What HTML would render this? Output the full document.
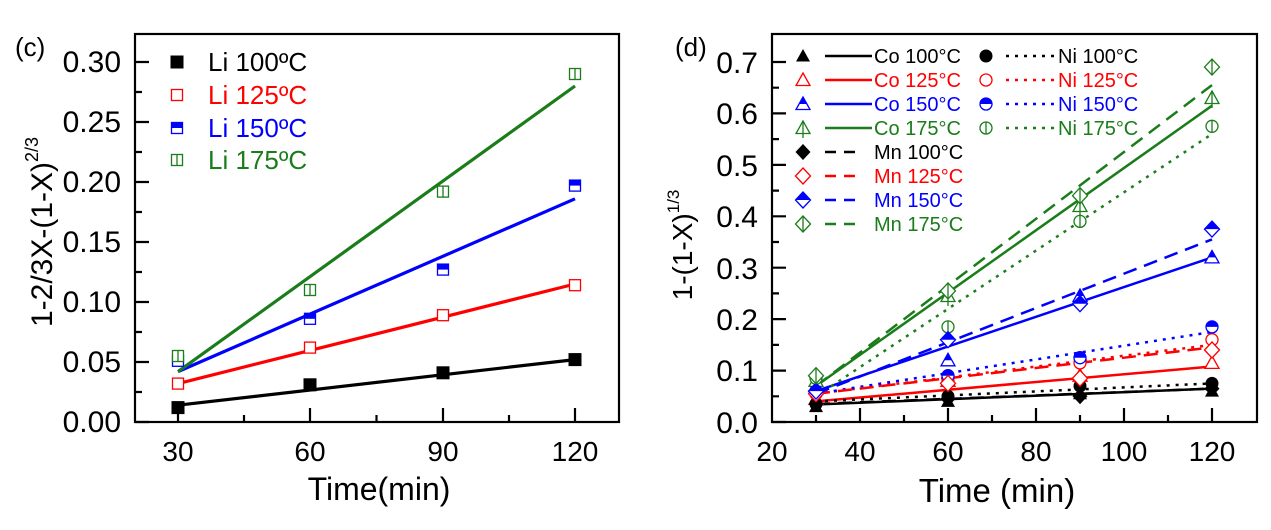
<!DOCTYPE html>
<html><head><meta charset="utf-8"><style>
html,body{margin:0;padding:0;background:#fff}
svg{display:block;font-family:"Liberation Sans",Arial,sans-serif}
</style></head><body>
<svg width="1271" height="530" viewBox="0 0 1271 530" xmlns="http://www.w3.org/2000/svg">
<defs>
<clipPath id="top"><rect x="-12" y="-12" width="24" height="12"/></clipPath>
<g id="sq0"><rect x="-6.5" y="-6.5" width="13" height="13" fill="#000"/></g>
<g id="sq1"><rect x="-5.5" y="-5.5" width="11" height="11" fill="#fff" stroke="#f00" stroke-width="1.3"/></g>
<g id="sq2"><rect x="-5.5" y="-5.5" width="11" height="11" fill="#fff" stroke="#00f" stroke-width="1.3"/><rect x="-5.5" y="-5.5" width="11" height="5.5" fill="#00f"/></g>
<g id="sq3"><rect x="-5.5" y="-5.5" width="11" height="11" fill="#fff" stroke="#1a7d1a" stroke-width="1.3"/><line x1="0" y1="-5.5" x2="0" y2="5.5" stroke="#1a7d1a" stroke-width="1.3"/></g>
<g id="tri0"><polygon points="0,-7 7,5.5 -7,5.5" fill="#000"/></g>
<g id="tri1"><polygon points="0,-7 7,5.5 -7,5.5" fill="#fff" stroke="#f00" stroke-width="1.3"/></g>
<g id="tri2"><polygon points="0,-7 7,5.5 -7,5.5" fill="#fff" stroke="#00f" stroke-width="1.3"/><polygon points="0,-7 7,5.5 -7,5.5" fill="#00f" clip-path="url(#top)"/></g>
<g id="tri3"><polygon points="0,-7 7,5.5 -7,5.5" fill="#fff" stroke="#1a7d1a" stroke-width="1.3"/><line x1="0" y1="-7" x2="0" y2="10" stroke="#1a7d1a" stroke-width="1.3"/></g>
<g id="cir0"><circle r="6.5" fill="#000"/></g>
<g id="cir1"><circle r="6" fill="#fff" stroke="#f00" stroke-width="1.3"/></g>
<g id="cir2"><circle r="6" fill="#fff" stroke="#00f" stroke-width="1.3"/><circle r="6" fill="#00f" clip-path="url(#top)"/></g>
<g id="cir3"><circle r="6" fill="#fff" stroke="#1a7d1a" stroke-width="1.3"/><line x1="0" y1="-6" x2="0" y2="6" stroke="#1a7d1a" stroke-width="1.3"/></g>
<g id="dia0"><polygon points="0,-8 7.5,0 0,8 -7.5,0" fill="#000"/></g>
<g id="dia1"><polygon points="0,-8 7.5,0 0,8 -7.5,0" fill="#fff" stroke="#f00" stroke-width="1.3"/></g>
<g id="dia2"><polygon points="0,-8 7.5,0 0,8 -7.5,0" fill="#fff" stroke="#00f" stroke-width="1.3"/><polygon points="0,-8 7.5,0 0,8 -7.5,0" fill="#00f" clip-path="url(#top)"/></g>
<g id="dia3"><polygon points="0,-8 7.5,0 0,8 -7.5,0" fill="#fff" stroke="#1a7d1a" stroke-width="1.3"/><line x1="0" y1="-8" x2="0" y2="8" stroke="#1a7d1a" stroke-width="1.3"/></g>
</defs>

<!-- ============ LEFT (c) ============ -->
<text x="15" y="56" font-size="26">(c)</text>
<g stroke="#000" stroke-width="2.2" fill="none">
<rect x="135" y="34" width="484" height="388"/>
<path d="M135 422h14M135 392h7M135 362h14M135 332h7M135 302h14M135 272h7M135 242h14M135 212h7M135 182h14M135 152h7M135 122h14M135 92h7M135 62h14"/>
<path d="M178 422v-14M244 422v-7M310 422v-14M376.5 422v-7M443 422v-14M509 422v-7M575 422v-14"/>
</g>
<g font-size="30" text-anchor="end">
<text x="121" y="432">0.00</text><text x="121" y="372">0.05</text><text x="121" y="312">0.10</text>
<text x="121" y="252">0.15</text><text x="121" y="192">0.20</text><text x="121" y="132">0.25</text><text x="121" y="72">0.30</text>
</g>
<g font-size="28" text-anchor="middle">
<text x="178" y="461">30</text><text x="310" y="461">60</text><text x="443" y="461">90</text><text x="575" y="461">120</text>
</g>
<text x="379" y="500" font-size="32" text-anchor="middle">Time(min)</text>
<text transform="translate(52,232) rotate(-90)" font-size="30" text-anchor="middle">1-2/3X-(1-X)<tspan font-size="18" dy="-14">2/3</tspan></text>

<g stroke-width="3.2" fill="none">
<line x1="178" y1="405.2" x2="575" y2="359.6" stroke="#000"/>
<line x1="178" y1="383.6" x2="575" y2="284" stroke="#f00"/>
<line x1="178" y1="371.6" x2="575" y2="198.8" stroke="#00f"/>
<line x1="178" y1="371.6" x2="575" y2="86" stroke="#1a7d1a"/>
</g>
<use href="#sq0" x="178" y="407.6"/><use href="#sq0" x="310" y="384.8"/><use href="#sq0" x="443" y="372.8"/><use href="#sq0" x="575" y="359.6"/>
<use href="#sq1" x="178" y="383.6"/><use href="#sq1" x="310" y="347.6"/><use href="#sq1" x="443" y="315.2"/><use href="#sq1" x="575" y="285.2"/>
<use href="#sq2" x="178" y="360.8"/><use href="#sq2" x="310" y="318.8"/><use href="#sq2" x="443" y="269.6"/><use href="#sq2" x="575" y="185.6"/>
<use href="#sq3" x="178" y="356"/><use href="#sq3" x="310" y="290"/><use href="#sq3" x="443" y="191.6"/><use href="#sq3" x="575" y="74"/>
<use href="#sq0" x="177" y="62"/><use href="#sq1" x="177" y="95"/><use href="#sq2" x="177" y="128"/><use href="#sq3" x="177" y="160"/>
<g font-size="26">
<text x="208" y="71" fill="#000">Li 100ºC</text>
<text x="208" y="104" fill="#f00">Li 125ºC</text>
<text x="208" y="137" fill="#00f">Li 150ºC</text>
<text x="208" y="169" fill="#1a7d1a">Li 175ºC</text>
</g>

<!-- ============ RIGHT (d) ============ -->
<text x="675" y="56" font-size="26">(d)</text>
<g stroke="#000" stroke-width="2.2" fill="none">
<rect x="772" y="34" width="485" height="388"/>
<path d="M772 422h14M772 396.3h7M772 370.6h14M772 344.9h7M772 319.1h14M772 293.4h7M772 267.7h14M772 242h7M772 216.3h14M772 190.6h7M772 164.9h14M772 139.1h7M772 113.4h14M772 87.7h7M772 62h14"/>
<path d="M816 422v-7M860 422v-14M904 422v-7M948 422v-14M992 422v-7M1036 422v-14M1080 422v-7M1124 422v-14M1168 422v-7M1212 422v-14"/>
</g>
<g font-size="30" text-anchor="end">
<text x="758" y="433">0.0</text><text x="758" y="381">0.1</text><text x="758" y="330">0.2</text><text x="758" y="279">0.3</text>
<text x="758" y="227">0.4</text><text x="758" y="176">0.5</text><text x="758" y="124">0.6</text><text x="758" y="73">0.7</text>
</g>
<g font-size="28" text-anchor="middle">
<text x="772" y="461">20</text><text x="860" y="461">40</text><text x="948" y="461">60</text><text x="1036" y="461">80</text>
<text x="1124" y="461">100</text><text x="1212" y="461">120</text>
</g>
<text x="997" y="502" font-size="33" text-anchor="middle">Time (min)</text>
<text transform="translate(692,245) rotate(-90)" font-size="28" text-anchor="middle">1-(1-X)<tspan font-size="17" dy="-13">1/3</tspan></text>

<g stroke-width="2.5" fill="none">
<line x1="816" y1="404.5" x2="1212" y2="388.6" stroke="#000"/>
<line x1="816" y1="401.4" x2="1212" y2="366.5" stroke="#f00"/>
<line x1="816" y1="391.1" x2="1212" y2="257.4" stroke="#00f"/>
<line x1="816" y1="386" x2="1212" y2="105.7" stroke="#1a7d1a"/>
<g stroke-dasharray="3 6">
<line x1="816" y1="401.4" x2="1212" y2="383.4" stroke="#000"/>
<line x1="816" y1="393.7" x2="1212" y2="344.9" stroke="#f00"/>
<line x1="816" y1="393.7" x2="1212" y2="332" stroke="#00f"/>
<line x1="816" y1="396.3" x2="1212" y2="134" stroke="#1a7d1a"/>
</g>
<g stroke-dasharray="14 8">
<line x1="816" y1="404" x2="1212" y2="388.6" stroke="#000"/>
<line x1="816" y1="393.7" x2="1212" y2="347.4" stroke="#f00"/>
<line x1="816" y1="393.7" x2="1212" y2="239.4" stroke="#00f"/>
<line x1="816" y1="386" x2="1212" y2="85.1" stroke="#1a7d1a"/>
</g>
</g>
<use href="#tri0" x="816" y="406.6"/><use href="#tri0" x="948" y="401.4"/><use href="#tri0" x="1080" y="393.7"/><use href="#tri0" x="1212" y="391.1"/>
<use href="#tri1" x="816" y="398.9"/><use href="#tri1" x="948" y="380.9"/><use href="#tri1" x="1080" y="375.7"/><use href="#tri1" x="1212" y="362.9"/>
<use href="#tri2" x="816" y="386"/><use href="#tri2" x="948" y="360.3"/><use href="#tri2" x="1080" y="296"/><use href="#tri2" x="1212" y="257.4"/>
<use href="#tri3" x="816" y="380.9"/><use href="#tri3" x="948" y="296"/><use href="#tri3" x="1080" y="206"/><use href="#tri3" x="1212" y="98"/>
<use href="#cir0" x="816" y="404"/><use href="#cir0" x="948" y="396.3"/><use href="#cir0" x="1080" y="386"/><use href="#cir0" x="1212" y="383.4"/>
<use href="#cir1" x="816" y="393.7"/><use href="#cir1" x="948" y="380.9"/><use href="#cir1" x="1080" y="362.9"/><use href="#cir1" x="1212" y="339.7"/>
<use href="#cir2" x="816" y="391.1"/><use href="#cir2" x="948" y="375.7"/><use href="#cir2" x="1080" y="357.7"/><use href="#cir2" x="1212" y="326.9"/>
<use href="#cir3" x="816" y="378.3"/><use href="#cir3" x="948" y="326.9"/><use href="#cir3" x="1080" y="221.4"/><use href="#cir3" x="1212" y="126.3"/>
<use href="#dia0" x="816" y="404"/><use href="#dia0" x="948" y="398.9"/><use href="#dia0" x="1080" y="396.3"/><use href="#dia0" x="1212" y="388.6"/>
<use href="#dia1" x="816" y="393.7"/><use href="#dia1" x="948" y="383.4"/><use href="#dia1" x="1080" y="378.3"/><use href="#dia1" x="1212" y="350"/>
<use href="#dia2" x="816" y="391.1"/><use href="#dia2" x="948" y="339.7"/><use href="#dia2" x="1080" y="303.7"/><use href="#dia2" x="1212" y="229.1"/>
<use href="#dia3" x="816" y="375.7"/><use href="#dia3" x="948" y="290.9"/><use href="#dia3" x="1080" y="195.7"/><use href="#dia3" x="1212" y="67.1"/>

<use href="#tri0" x="803" y="56"/><use href="#tri1" x="803" y="80"/><use href="#tri2" x="803" y="104"/><use href="#tri3" x="803" y="128"/>
<use href="#dia0" x="803" y="152"/><use href="#dia1" x="803" y="176"/><use href="#dia2" x="803" y="200"/><use href="#dia3" x="803" y="224"/>
<use href="#cir0" x="986" y="56"/><use href="#cir1" x="986" y="80"/><use href="#cir2" x="986" y="104"/><use href="#cir3" x="986" y="128"/>
<g stroke-width="2.5">
<line x1="825" y1="56" x2="872" y2="56" stroke="#000"/>
<line x1="825" y1="80" x2="872" y2="80" stroke="#f00"/>
<line x1="825" y1="104" x2="872" y2="104" stroke="#00f"/>
<line x1="825" y1="128" x2="872" y2="128" stroke="#1a7d1a"/>
<g stroke-dasharray="11 8">
<line x1="825" y1="152" x2="863" y2="152" stroke="#000"/>
<line x1="825" y1="176" x2="863" y2="176" stroke="#f00"/>
<line x1="825" y1="200" x2="863" y2="200" stroke="#00f"/>
<line x1="825" y1="224" x2="863" y2="224" stroke="#1a7d1a"/>
</g>
<g stroke-dasharray="3 6">
<line x1="1006" y1="56" x2="1056" y2="56" stroke="#000"/>
<line x1="1006" y1="80" x2="1056" y2="80" stroke="#f00"/>
<line x1="1006" y1="104" x2="1056" y2="104" stroke="#00f"/>
<line x1="1006" y1="128" x2="1056" y2="128" stroke="#1a7d1a"/>
</g>
</g>
<g font-size="20">
<text x="874" y="63" fill="#000">Co 100°C</text>
<text x="874" y="87" fill="#f00">Co 125°C</text>
<text x="874" y="111" fill="#00f">Co 150°C</text>
<text x="874" y="135" fill="#1a7d1a">Co 175°C</text>
<text x="874" y="159" fill="#000">Mn 100°C</text>
<text x="874" y="183" fill="#f00">Mn 125°C</text>
<text x="874" y="207" fill="#00f">Mn 150°C</text>
<text x="874" y="231" fill="#1a7d1a">Mn 175°C</text>
<text x="1058" y="63" fill="#000">Ni 100°C</text>
<text x="1058" y="87" fill="#f00">Ni 125°C</text>
<text x="1058" y="111" fill="#00f">Ni 150°C</text>
<text x="1058" y="135" fill="#1a7d1a">Ni 175°C</text>
</g>
</svg>
</body></html>
